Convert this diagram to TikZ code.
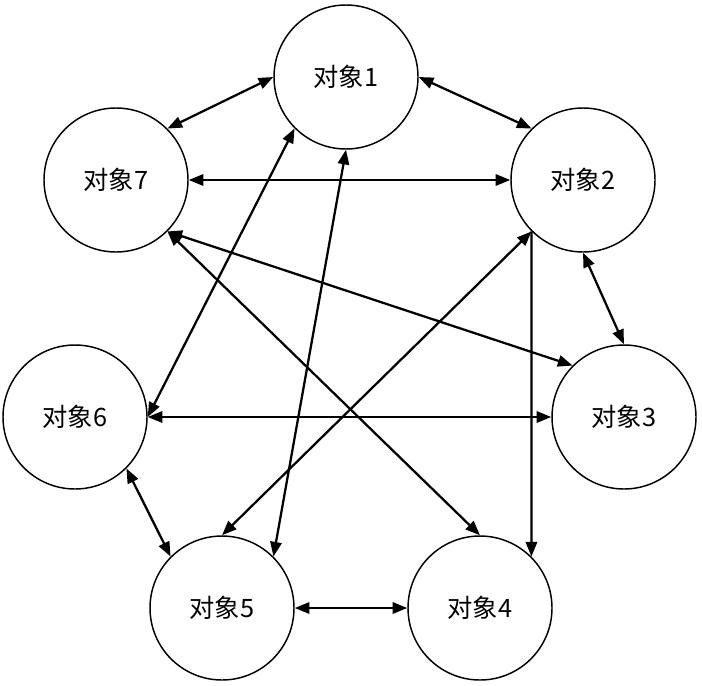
\documentclass[tikz,border=0pt]{standalone}
\usepackage{fontspec}
\setmainfont{Noto Sans CJK SC}
\usetikzlibrary{arrows.meta}

\begin{document}
\begin{tikzpicture}[x=0.75pt,y=-0.75pt,
    obj/.style={draw, circle, line width=1.1pt, minimum size=108pt,
                inner sep=0pt, font=\fontsize{19}{21}\selectfont},
    link/.style={{Triangle[length=11pt,width=8.5pt]}-{Triangle[length=11pt,width=8.5pt]},
                 line width=1.7pt},
    oneway/.style={-{Triangle[length=11pt,width=8.5pt]}, line width=1.7pt}]
  \useasboundingbox (0,0) rectangle (702,685);
  % the seven objects
  \node[obj] (o1) at (346,77) {对象1};
  \node[obj] (o2) at (583,180) {对象2};
  \node[obj] (o3) at (624,417) {对象3};
  \node[obj] (o4) at (480,608) {对象4};
  \node[obj] (o5) at (222,608) {对象5};
  \node[obj] (o6) at (75,417) {对象6};
  \node[obj] (o7) at (116,180) {对象7};
  % outer ring
  \draw[link] (o1.west) -- (o7.north east);
  \draw[link] (o1.east) -- (o2.north west);
  \draw[link] (o2.south) -- (o3.north);
  \draw[link] (o5.east) -- (o4.west);
  \draw[link] (o6.south east) -- (o5.north west);
  % crossing links
  \draw[link] (o7.east) -- (o2.west);
  \draw[link] (o6.east) -- (o3.west);
  \draw[link] (o7.south east) -- (o3.north west);
  \draw[link] (o7.south east) -- (o4.north);
  \draw[link] (o1.south west) -- (o6.east);
  \draw[link] (o1.south) -- (o5.north east);
  \draw[link] (o2.south west) -- (o5.north);
  \draw[oneway] (o2.south west) -- (o4.north east);
\end{tikzpicture}
\end{document}
